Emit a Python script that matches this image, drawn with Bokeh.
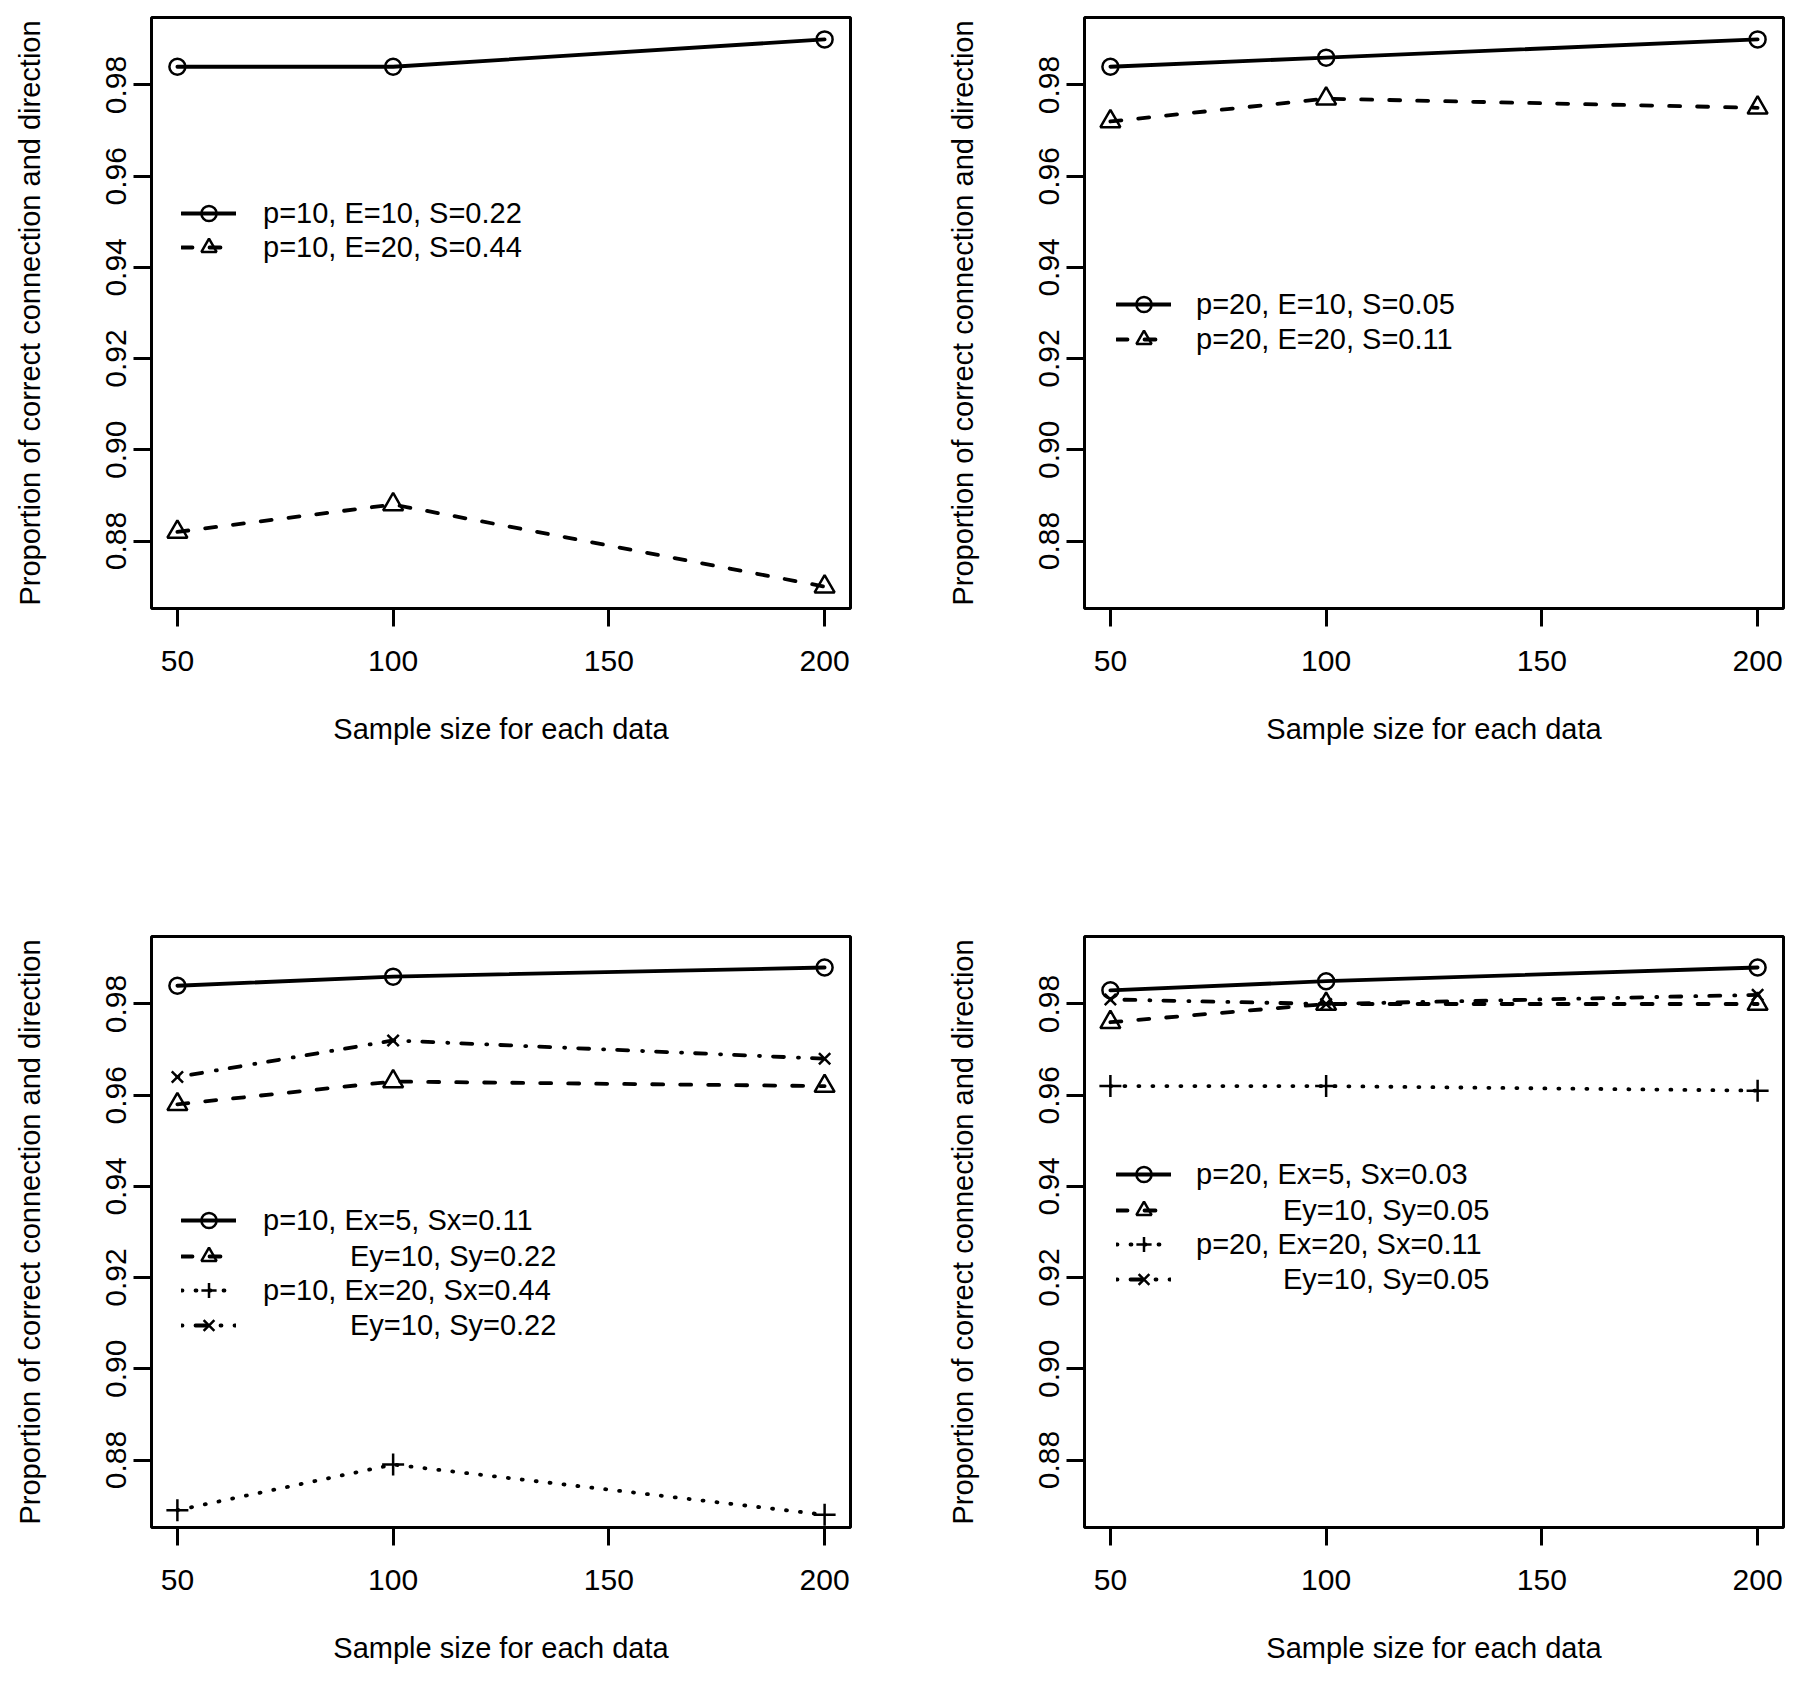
from bokeh.plotting import figure
from bokeh.models import Range1d, FixedTicker, NumeralTickFormatter, Legend, LegendItem
from bokeh.layouts import row, column
from bokeh.embed import file_html
from bokeh.resources import INLINE

# ---------------- data ----------------
sample_size = [50, 100, 200]
x_ticks = [50, 100, 150, 200]
y_ticks = [0.88, 0.90, 0.92, 0.94, 0.96, 0.98]
x_limits = [50, 200]
y_limits = [0.87, 0.99]
x_label = "Sample size for each data"
y_label = "Proportion of correct connection and direction"

# top-left panel
tl_labels = ["p=10, E=10, S=0.22", "p=10, E=20, S=0.44"]
tl_circle = [0.984, 0.984, 0.990]
tl_triangle = [0.882, 0.888, 0.870]

# top-right panel
tr_labels = ["p=20, E=10, S=0.05", "p=20, E=20, S=0.11"]
tr_circle = [0.984, 0.986, 0.990]
tr_triangle = [0.972, 0.977, 0.975]

# bottom-left panel
bl_labels = ["p=10, Ex=5, Sx=0.11", "Ey=10, Sy=0.22", "p=10, Ex=20, Sx=0.44", "Ey=10, Sy=0.22"]
bl_circle = [0.984, 0.986, 0.988]
bl_triangle = [0.958, 0.963, 0.962]
bl_plus = [0.869, 0.879, 0.868]
bl_cross = [0.964, 0.972, 0.968]

# bottom-right panel
br_labels = ["p=20, Ex=5, Sx=0.03", "Ey=10, Sy=0.05", "p=20, Ex=20, Sx=0.11", "Ey=10, Sy=0.05"]
br_circle = [0.983, 0.985, 0.988]
br_triangle = [0.976, 0.980, 0.980]
br_plus = [0.962, 0.962, 0.961]
br_cross = [0.981, 0.980, 0.982]

# ---------------- styling ----------------
FONT = "Liberation Sans"
STYLE = {
    "circle": dict(dash="solid", marker="circle", size=16),
    "triangle": dict(dash="11 17", marker="triangle", size=20),
    "plus": dict(dash="1 13", marker="cross", size=22),
    "cross": dict(dash="1 13 11 14", marker="x", size=16),
}

FRAME_W = 699
FRAME_H = 591
LEG_H = 38


def pad(lims):
    d = (lims[1] - lims[0]) * 0.04
    return lims[0] - d, lims[1] + d


def make_fig(bl, br, bt, bb):
    xr = pad(x_limits)
    yr = pad(y_limits)
    p = figure(frame_width=FRAME_W, frame_height=FRAME_H,
               x_range=Range1d(*xr), y_range=Range1d(*yr),
               output_backend="svg", toolbar_location=None, title=None,
               min_border_left=bl, min_border_right=br,
               min_border_top=bt, min_border_bottom=bb)
    p.grid.visible = False
    p.outline_line_color = "black"
    p.outline_line_width = 3
    p.background_fill_color = "white"
    p.border_fill_color = "white"

    p.xaxis.ticker = FixedTicker(ticks=x_ticks)
    p.yaxis.ticker = FixedTicker(ticks=y_ticks)
    p.yaxis.formatter = NumeralTickFormatter(format="0.00")
    p.xaxis.axis_label = x_label
    p.yaxis.axis_label = y_label
    for ax in (p.xaxis, p.yaxis):
        ax.axis_line_color = None
        ax.major_tick_line_color = "black"
        ax.major_tick_line_width = 3
        ax.major_tick_out = 18
        ax.major_tick_in = 0
        ax.minor_tick_line_color = None
        ax.major_label_text_font = FONT
        ax.major_label_text_font_size = "30px"
        ax.major_label_text_color = "black"
        ax.axis_label_text_font = FONT
        ax.axis_label_text_font_size = "29px"
        ax.axis_label_text_font_style = "normal"
        ax.axis_label_text_color = "black"
    p.xaxis.major_label_standoff = 24
    p.xaxis.axis_label_standoff = 39
    p.yaxis.major_label_orientation = "vertical"
    p.yaxis.major_label_standoff = 7
    p.yaxis.axis_label_standoff = 58
    return p


def add_series(p, values, kind):
    st = STYLE[kind]
    ln = p.line(sample_size, values, line_color="black", line_width=3.8,
                line_dash=st["dash"], line_cap="round")
    sc = p.scatter(sample_size, values, marker=st["marker"], size=st["size"],
                   fill_color=None, line_color="black", line_width=2.5)
    return [ln, sc]


def add_legend(p, label, renderers, vx, vy, standoff):
    lg = Legend(items=[LegendItem(label=label, renderers=renderers)],
                location=(vx, vy), orientation="vertical",
                background_fill_alpha=0, border_line_alpha=0,
                padding=0, margin=0, spacing=0,
                glyph_width=55, glyph_height=LEG_H, label_height=LEG_H,
                label_standoff=standoff,
                label_text_font=FONT, label_text_font_size="29px",
                label_text_color="black")
    p.add_layout(lg)


# ---------------- panels ----------------
p1 = make_fig(151, 83, 17, 226)
r = add_series(p1, tl_circle, "circle")
add_legend(p1, tl_labels[0], r, 30, 376, 27)
r = add_series(p1, tl_triangle, "triangle")
add_legend(p1, tl_labels[1], r, 30, 342, 27)

p2 = make_fig(151, 5, 17, 226)
r = add_series(p2, tr_circle, "circle")
add_legend(p2, tr_labels[0], r, 32, 285, 25)
r = add_series(p2, tr_triangle, "triangle")
add_legend(p2, tr_labels[1], r, 32, 250, 25)

p3 = make_fig(151, 83, 102, 140)
r = add_series(p3, bl_circle, "circle")
add_legend(p3, bl_labels[0], r, 30, 288, 27)
r = add_series(p3, bl_triangle, "triangle")
add_legend(p3, bl_labels[1], r, 30, 252, 114)
r = add_series(p3, bl_plus, "plus")
add_legend(p3, bl_labels[2], r, 30, 218, 27)
r = add_series(p3, bl_cross, "cross")
add_legend(p3, bl_labels[3], r, 30, 183, 114)

p4 = make_fig(151, 5, 102, 140)
r = add_series(p4, br_circle, "circle")
add_legend(p4, br_labels[0], r, 32, 334, 25)
r = add_series(p4, br_triangle, "triangle")
add_legend(p4, br_labels[1], r, 32, 298, 112)
r = add_series(p4, br_plus, "plus")
add_legend(p4, br_labels[2], r, 32, 264, 25)
r = add_series(p4, br_cross, "cross")
add_legend(p4, br_labels[3], r, 32, 229, 112)

layout = column(row(p1, p2), row(p3, p4))

with open("out.html", "w") as f:
    f.write(file_html(layout, INLINE))
